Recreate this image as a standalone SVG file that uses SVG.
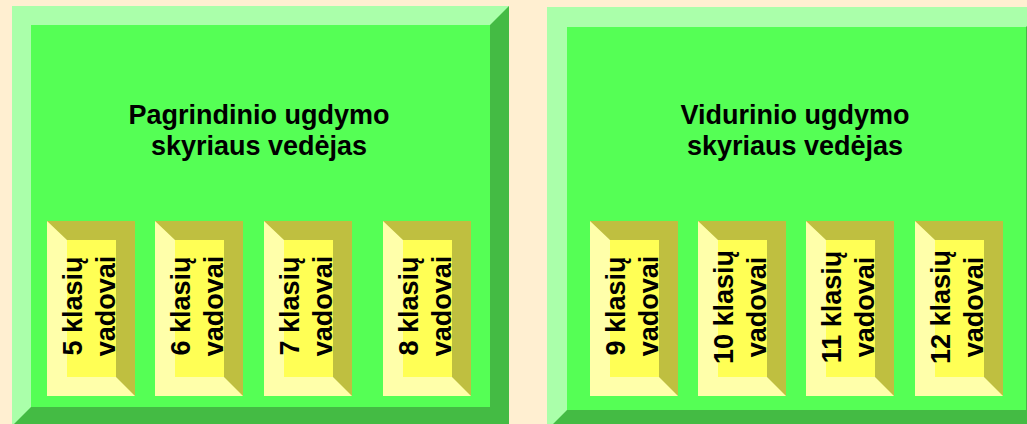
<svg xmlns="http://www.w3.org/2000/svg" xmlns:xlink="http://www.w3.org/1999/xlink" width="1027" height="424" viewBox="0 0 1027 424">
  <style>
    .bg { fill: #FFEFD1; }
    .bl { fill: #AAFFAA; }
    .bd { fill: #44BB44; }
    .bf { fill: #55FF55; }
    .sl { fill: #FFFFAA; }
    .sd { fill: #BFBF40; }
    .sf { fill: #FFFF55; }
    text { font-family: "Liberation Sans", Arial, sans-serif; font-weight: bold; font-size: 27px; fill: #000; text-anchor: middle; }
  </style>
  <defs>
    <g id="sb">
      <rect class="sl" x="0" y="0" width="88" height="175"/>
      <polygon class="sd" points="0,0 88,0 88,175 69,156 69,19 20,19"/>
      <rect class="sf" x="20" y="19" width="49" height="137"/>
    </g>
  </defs>
  <rect class="bg" x="0" y="0" width="1027" height="424"/>

  <g id="pagrindinio">
    <rect class="bl" x="12" y="6" width="497" height="420"/>
    <polygon class="bd" points="509,6 509,426 12,426 31,407 490,407 490,25"/>
    <rect class="bf" x="31" y="25" width="459" height="382"/>
    <text x="259" y="124">Pagrindinio ugdymo</text>
    <text x="259" y="155">skyriaus vedėjas</text>
  </g>

  <g id="vidurinio">
    <rect class="bl" x="547" y="7" width="499" height="423"/>
    <polygon class="bd" points="1046,7 1046,430 547,430 567,410 1026,410 1026,27"/>
    <rect class="bf" x="567" y="27" width="459" height="383"/>
    <text x="795" y="124">Vidurinio ugdymo</text>
    <text x="795" y="155">skyriaus vedėjas</text>
  </g>

  <g id="k5">
    <use xlink:href="#sb" x="47" y="221"/>
    <text transform="translate(81.5,306) rotate(-90)">5 klasių</text>
    <text transform="translate(115,306) rotate(-90)">vadovai</text>
  </g>
  <g id="k6">
    <use xlink:href="#sb" x="155" y="221"/>
    <text transform="translate(189.5,306) rotate(-90)">6 klasių</text>
    <text transform="translate(223,306) rotate(-90)">vadovai</text>
  </g>
  <g id="k7">
    <use xlink:href="#sb" x="264" y="221"/>
    <text transform="translate(298.5,306) rotate(-90)">7 klasių</text>
    <text transform="translate(332,306) rotate(-90)">vadovai</text>
  </g>
  <g id="k8">
    <use xlink:href="#sb" x="383" y="221"/>
    <text transform="translate(417.5,306) rotate(-90)">8 klasių</text>
    <text transform="translate(451,306) rotate(-90)">vadovai</text>
  </g>
  <g id="k9">
    <use xlink:href="#sb" x="590" y="221"/>
    <text transform="translate(624.5,306) rotate(-90)">9 klasių</text>
    <text transform="translate(658,306) rotate(-90)">vadovai</text>
  </g>
  <g id="k10">
    <use xlink:href="#sb" x="698" y="221"/>
    <text transform="translate(732.5,307) rotate(-90)">10 klasių</text>
    <text transform="translate(766,307) rotate(-90)">vadovai</text>
  </g>
  <g id="k11">
    <use xlink:href="#sb" x="806" y="221"/>
    <text transform="translate(840.5,307) rotate(-90)">11 klasių</text>
    <text transform="translate(874,307) rotate(-90)">vadovai</text>
  </g>
  <g id="k12">
    <use xlink:href="#sb" x="915" y="221"/>
    <text transform="translate(949.5,307) rotate(-90)">12 klasių</text>
    <text transform="translate(983,307) rotate(-90)">vadovai</text>
  </g>

  <g id="connectors"></g>
</svg>
